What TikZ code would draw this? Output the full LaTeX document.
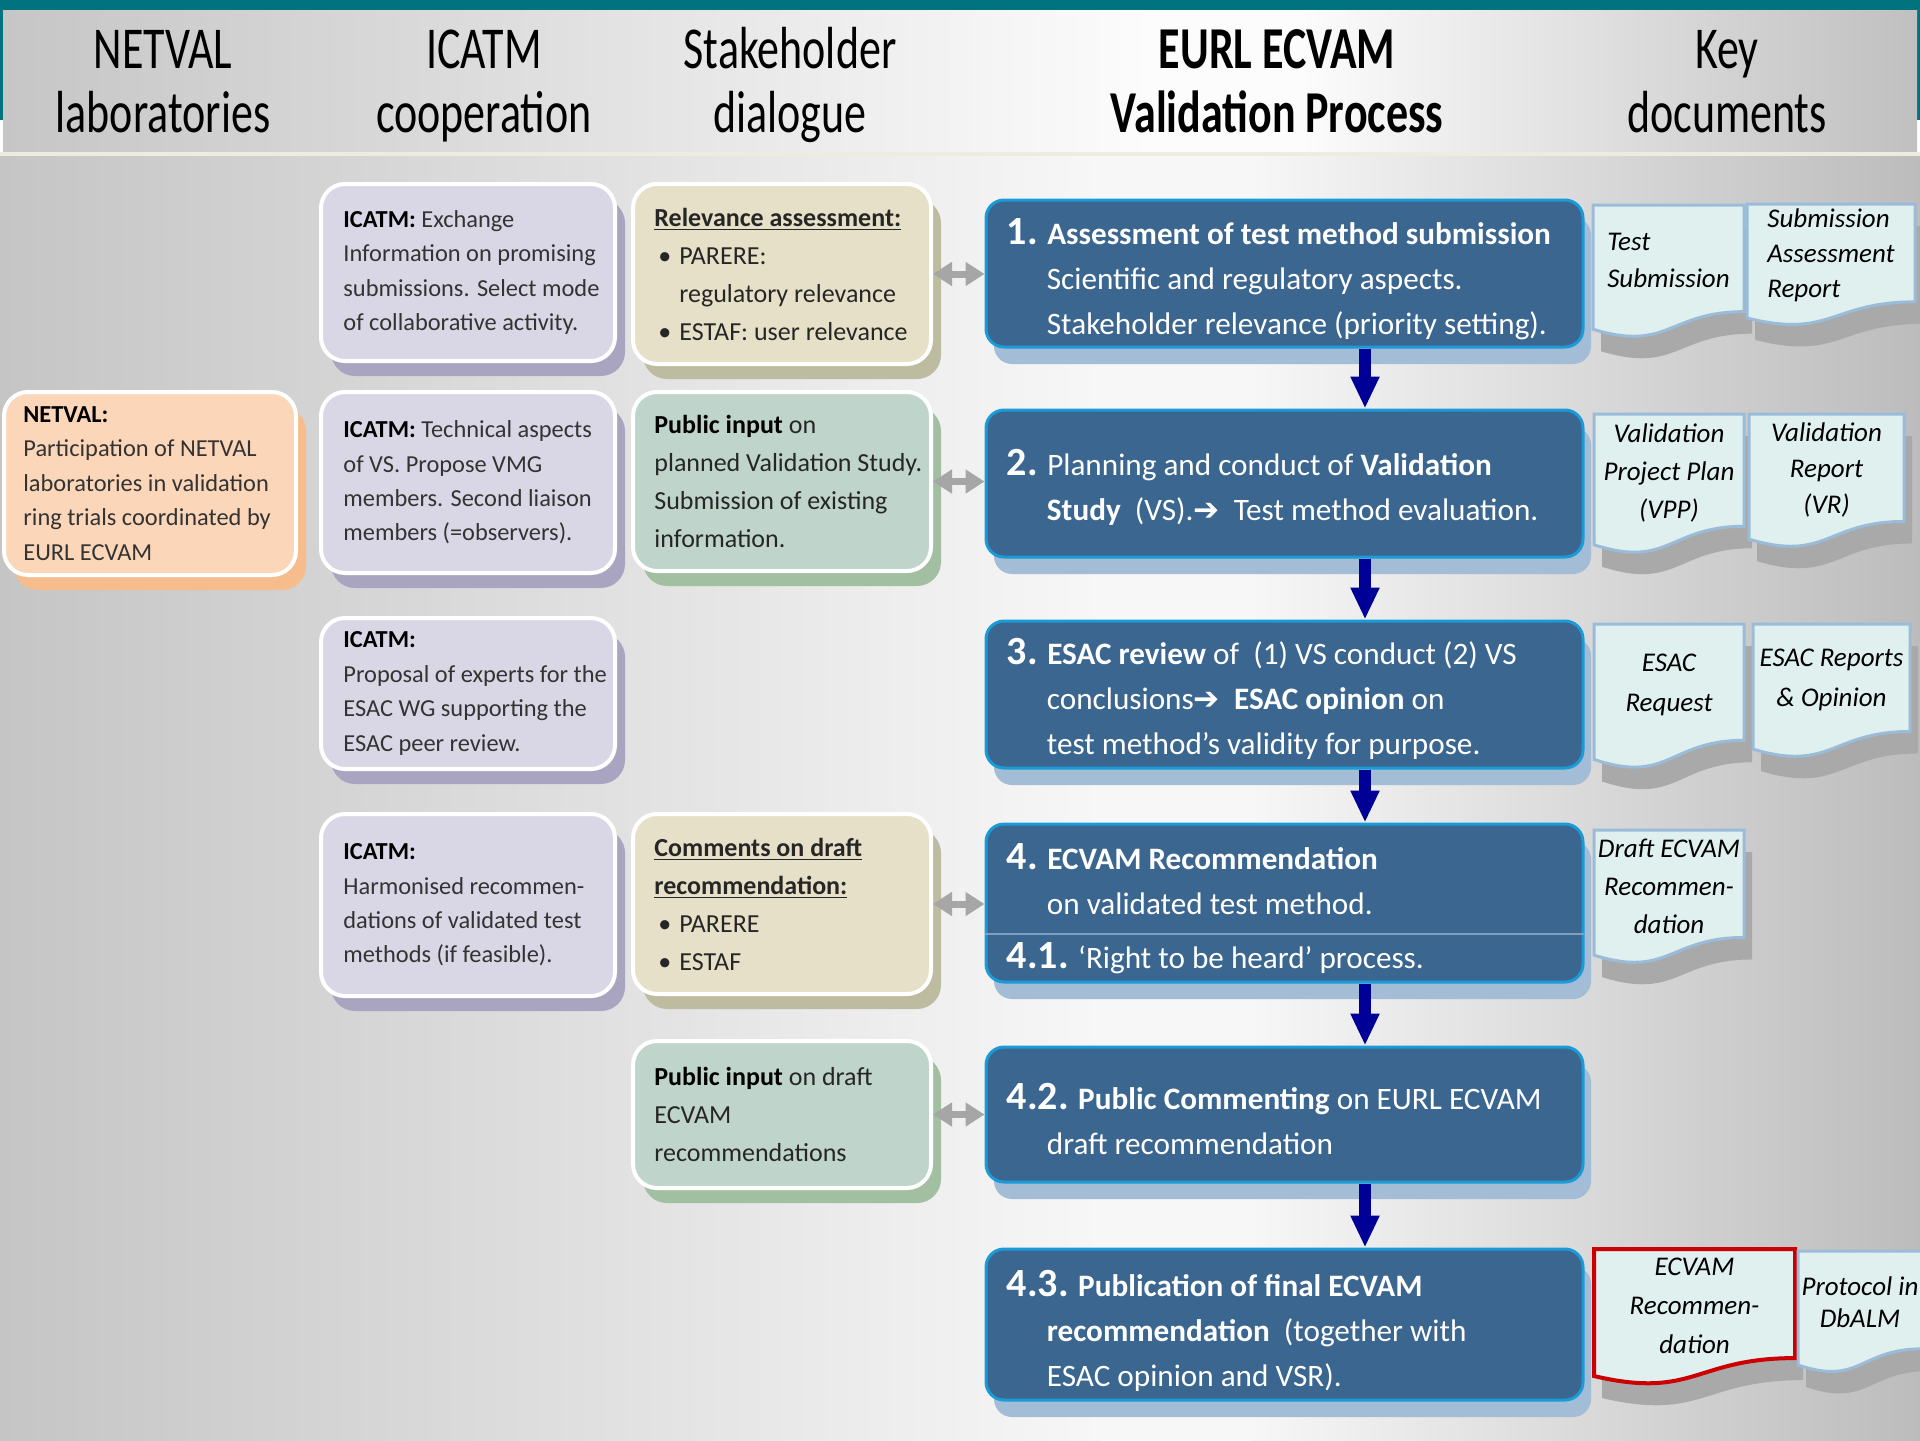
\documentclass[tikz,border=0pt]{standalone}
\usepackage{fontspec}
\setmainfont{Carlito}
\newfontfamily\arrowfont{DejaVu Sans}
\usetikzlibrary{arrows.meta,shadows,positioning}

\definecolor{topteal}{HTML}{00737F}
\definecolor{hdside}{HTML}{C6C6C6}
\definecolor{hdmid}{HTML}{FCFCFC}
\definecolor{hdright}{HTML}{C0C0C0}
\definecolor{sepline}{HTML}{EEEBE0}
\definecolor{bgside}{HTML}{C5C5C5}
\definecolor{bgmid}{HTML}{F7F7F7}
\definecolor{bgright}{HTML}{BCBCBC}
\definecolor{stepblue}{HTML}{3B6690}
\definecolor{stepedge}{HTML}{1A9BD7}
\definecolor{stepshade}{HTML}{A2BDD5}
\definecolor{stepline}{HTML}{7F9FC0}
\definecolor{icatmfill}{HTML}{D9D7E6}
\definecolor{icatmshade}{HTML}{A9A5C1}
\definecolor{relfill}{HTML}{E6E0C8}
\definecolor{relshade}{HTML}{BDBBA0}
\definecolor{pubfill}{HTML}{BFD4CB}
\definecolor{pubshade}{HTML}{A3BFA2}
\definecolor{netfill}{HTML}{FCD6B9}
\definecolor{netshade}{HTML}{F7BC8C}
\definecolor{docfill}{HTML}{DFF0EF}
\definecolor{docedge}{HTML}{9BBCD8}
\definecolor{docred}{HTML}{CC0000}
\definecolor{docshade}{HTML}{A9A9A9}
\definecolor{navyarrow}{HTML}{000096}
\definecolor{greyarrow}{HTML}{A6A6A6}
\definecolor{bodytext}{HTML}{333333}

\begin{document}
\begin{tikzpicture}[x=0.5pt, y=-0.5pt,
  colhead/.style={inner sep=0pt, font=\fontsize{22}{23.7}\selectfont},
  pastel/.style={draw=white, line width=2pt, rounded corners=12pt, inner sep=0pt},
  icatm/.style={pastel, fill=icatmfill, minimum width=147pt,
    drop shadow={shadow xshift=5pt, shadow yshift=-7.5pt, fill=icatmshade, opacity=1}},
  netval/.style={pastel, fill=netfill, minimum width=146pt,
    drop shadow={shadow xshift=5pt, shadow yshift=-7.5pt, fill=netshade, opacity=1}},
  relev/.style={pastel, fill=relfill, minimum width=149pt,
    drop shadow={shadow xshift=5pt, shadow yshift=-7.5pt, fill=relshade, opacity=1}},
  pubin/.style={pastel, fill=pubfill, minimum width=149pt,
    drop shadow={shadow xshift=5pt, shadow yshift=-7.5pt, fill=pubshade, opacity=1}},
  boxtext/.style={inner sep=0pt, align=left, text=bodytext, font=\fontsize{12.2}{17.2}\selectfont},
  staketext/.style={inner sep=0pt, align=left, text=black!85, font=\fontsize{13}{19}\selectfont},
  stepbox/.style={fill=stepblue, draw=stepedge, line width=1.5pt, rounded corners=9pt,
    minimum width=298.5pt, inner sep=0pt,
    drop shadow={shadow xshift=4pt, shadow yshift=-8.5pt, fill=stepshade, opacity=1}},
  steptext/.style={inner sep=0pt, align=left, text=white, font=\fontsize{15.6}{22.5}\selectfont},
  docpaper/.style={fill=docfill, draw=docedge, line width=1.5pt,
    drop shadow={shadow xshift=4pt, shadow yshift=-11pt, fill=docshade, opacity=1}},
  doctext/.style={inner sep=0pt, align=center, font=\itshape\fontsize{13.5}{19}\selectfont},
  flowarrow/.style={draw=navyarrow, line width=6pt, arrows={-Triangle[width=13.5pt,length=16pt]}},
  linkarrow/.style={draw=greyarrow, line width=3.5pt,
    arrows={Triangle[width=11.5pt,length=9.5pt]-Triangle[width=11.5pt,length=9.5pt]}}
]

\newcommand\headlines[2]{\scalebox{1}[1.35]{\begin{tabular}{@{}c@{}}#1\\#2\end{tabular}}}
\newcommand\boxlead[1]{\textcolor{black}{\textbf{#1}}}
\newcommand\stakebullet{\hspace*{2pt}\makebox[10.5pt][l]{\textbullet}}
\newcommand\stepno[1]{{\fontsize{20}{22.5}\selectfont\bfseries #1}}
\newcommand\stepindent{\hspace*{20pt}}
\newcommand\steparrow{{\arrowfont ➔}}
\newcommand\keydoc[6]{% style, x0, x1, y0, h, name
  \draw[#1] (#2,#4) -- (#3,#4) -- (#3,{#4+0.802*#5})
    .. controls ({(#2+#3)/2},{#4+0.802*#5}) and ({(#2+#3)/2},{#4+1.107*#5}) .. (#2,{#4+0.934*#5}) -- cycle;
  \coordinate (#6) at ({(#2+#3)/2},{#4+0.42*#5});}

\useasboundingbox (0,0) rectangle (1920,1440);

%% background
\fill[topteal] (0,0) rectangle (1920,120);
\fill[left color=hdside, right color=hdmid] (3,10) rectangle (1151,152);
\fill[hdmid] (1150,10) rectangle (1301,152);
\fill[left color=hdmid, right color=hdright] (1300,10) rectangle (1917,152);
\fill[sepline] (0,152) rectangle (1920,156);
\fill[left color=bgside, right color=bgmid] (0,156) rectangle (1101,1440);
\fill[bgmid] (1100,156) rectangle (1251,1440);
\fill[left color=bgmid, right color=bgright] (1250,156) rectangle (1920,1440);

%% column heads
\node[colhead] (hNetval) at (163,88) {\headlines{NETVAL}{laboratories}};
\node[colhead] (hIcatm) at (484,88) {\headlines{ICATM}{cooperation}};
\node[colhead] (hStake) at (790,88) {\headlines{Stakeholder}{dialogue}};
\node[colhead] (hEurl) at (1277,88) {\headlines{\textbf{EURL ECVAM}}{\textbf{Validation Process}}};
\node[colhead] (hKey) at (1727,88) {\headlines{Key}{documents}};

%% NETVAL and ICATM
\node[netval, minimum height=91.5pt] (N1) at (150,483.5) {};
\node[boxtext, right=10.5pt of N1.west] (N1t) {\boxlead{NETVAL:}\\Participation of NETVAL\\laboratories in validation\\ring trials coordinated by\\EURL ECVAM};

\node[icatm, minimum height=88.5pt] (I1) at (468,272.5) {};
\node[icatm, minimum height=90.5pt] (I2) at (468,482.5) {};
\node[icatm, minimum height=75.5pt] (I3) at (468,693.5) {};
\node[icatm, minimum height=91pt] (I4) at (468,905) {};
\node[boxtext, right=12pt of I1.west] (I1t) {\boxlead{ICATM:} Exchange\\Information on promising\\submissions. Select mode\\of collaborative activity.};
\node[boxtext, right=12pt of I2.west] (I2t) {\boxlead{ICATM:} Technical aspects\\of VS. Propose VMG\\members. Second liaison\\members (=observers).};
\node[boxtext, right=12pt of I3.west] (I3t) {\boxlead{ICATM:}\\Proposal of experts for the\\ESAC WG supporting the\\ESAC peer review.};
\node[boxtext, right=12pt of I4.west] (I4t) {\boxlead{ICATM:}\\Harmonised recommen-\\dations of validated test\\methods (if feasible).};

%% stakeholders
\node[relev, minimum height=90pt] (S1) at (782,274) {};
\node[pubin, minimum height=89.5pt] (S2) at (782,481.5) {};
\node[relev, minimum height=90pt] (S3) at (782,904) {};
\node[pubin, minimum height=73.5pt] (S4) at (782,1114.5) {};
\node[staketext, right=11.5pt of S1.west] (S1t) {\underline{\textbf{Relevance assessment:}}\\\stakebullet PARERE:\\\hspace*{12.5pt}regulatory relevance\\\stakebullet ESTAF: user relevance};
\node[staketext, right=11.5pt of S2.west] (S2t) {\boxlead{Public input} on\\planned Validation Study.\\Submission of existing\\information.};
\node[staketext, right=11.5pt of S3.west] (S3t) {\underline{\textbf{Comments on draft}}\\\underline{\textbf{recommendation:}}\\\stakebullet PARERE\\\stakebullet ESTAF};
\node[staketext, right=11.5pt of S4.west] (S4t) {\boxlead{Public input} on draft\\ECVAM\\recommendations};

%% validation steps
\node[stepbox, minimum height=73.5pt] (B1) at (1284.5,273.5) {};
\node[stepbox, minimum height=73.5pt] (B2) at (1284.5,483.5) {};
\node[stepbox, minimum height=73.5pt] (B3) at (1284.5,694.5) {};
\node[stepbox, minimum height=79pt] (B4) at (1284.5,903) {};
\node[stepbox, minimum height=67.5pt] (B42) at (1284.5,1114.5) {};
\node[stepbox, minimum height=75.5pt] (B43) at (1284.5,1324.5) {};
\coordinate (B4div) at (1284.5,934);
\draw[stepline, line width=1pt] (B4div -| B4.west) -- (B4div -| B4.east);

\node[steptext, right=11pt of B1.west, yshift=-3pt] (B1t) {\stepno{1.} \textbf{Assessment of test method submission}\\\stepindent Scientific and regulatory aspects.\\\stepindent Stakeholder relevance (priority setting).};
\node[steptext, right=11pt of B2.west, yshift=-2pt] (B2t) {\stepno{2.} Planning and conduct of \textbf{Validation}\\\stepindent\textbf{Study}\ \ (VS).\steparrow\ \ Test method evaluation.};
\node[steptext, right=11pt of B3.west, yshift=-2pt] (B3t) {\stepno{3.} \textbf{ESAC review} of\ \ (1) VS conduct (2) VS\\\stepindent conclusions\steparrow\ \ \textbf{ESAC opinion} on\\\stepindent test method’s validity for purpose.};
\node[steptext, right=11pt of B4.west, yshift=12pt] (B4t) {\stepno{4.} \textbf{ECVAM Recommendation}\\\stepindent on validated test method.};
\node[steptext, right=11pt of B4.west, yshift=-27.5pt] (B41t) {\stepno{4.1.} ‘Right to be heard’ process.};
\node[steptext, right=11pt of B42.west, yshift=-2pt] (B42t) {\stepno{4.2.} \textbf{Public Commenting} on EURL ECVAM\\\stepindent draft recommendation};
\node[steptext, right=11pt of B43.west, yshift=-3pt] (B43t) {\stepno{4.3.} \textbf{Publication of final ECVAM}\\\stepindent\textbf{recommendation}\ \ (together with\\\stepindent ESAC opinion and VSR).};

%% key documents
\keydoc{docpaper}{1593}{1744}{205}{133}{D1a}
\keydoc{docpaper}{1747}{1915}{204}{122}{D1b}
\keydoc{docpaper}{1594}{1744}{414}{140}{D2a}
\keydoc{docpaper}{1749}{1904}{414}{134}{D2b}
\keydoc{docpaper}{1594}{1744}{624}{145}{D3a}
\keydoc{docpaper}{1753}{1910}{624}{134}{D3b}
\keydoc{docpaper}{1594}{1744}{830}{134}{D4a}
\keydoc{docpaper, draw=docred, line width=2pt}{1594}{1795}{1249}{136}{D5a}
\keydoc{docpaper}{1798}{1922}{1251}{122}{D5b}

\node[doctext, align=left, font=\itshape\fontsize{13.5}{18.5}\selectfont] (D1at) at (D1a) {Test\\Submission};
\node[doctext, align=left, font=\itshape\fontsize{13.5}{17.5}\selectfont] (D1bt) at (D1b) {Submission\\Assessment\\Report};
\node[doctext] (D2at) at (D2a) {Validation\\Project Plan\\(VPP)};
\node[doctext, font=\itshape\fontsize{13.5}{18}\selectfont] (D2bt) at (D2b) {Validation\\Report\\(VR)};
\node[doctext, font=\itshape\fontsize{13.5}{20}\selectfont] (D3at) at (D3a) {ESAC\\Request};
\node[doctext, font=\itshape\fontsize{13.5}{20}\selectfont] (D3bt) at (D3b) {ESAC Reports\\\& Opinion};
\node[doctext] (D4at) at (D4a) {Draft ECVAM\\Recommen-\\dation};
\node[doctext, font=\itshape\fontsize{13.5}{19.5}\selectfont] (D5at) at (D5a) {ECVAM\\Recommen-\\dation};
\node[doctext, font=\itshape\fontsize{13.5}{16}\selectfont] (D5bt) at (D5b) {Protocol in\\DbALM};

%% connectors
\coordinate (flowx) at (1365,0);
\draw[flowarrow] (B1.south -| flowx) -- (B2.north -| flowx);
\draw[flowarrow] (B2.south -| flowx) -- (B3.north -| flowx);
\draw[flowarrow] (B3.south -| flowx) -- (B4.north -| flowx);
\draw[flowarrow] (B4.south -| flowx) -- (B42.north -| flowx);
\draw[flowarrow] (B42.south -| flowx) -- (B43.north -| flowx);

\draw[linkarrow] (S1.east) -- (S1.east -| B1.west);
\draw[linkarrow] (S2.east) -- (S2.east -| B2.west);
\draw[linkarrow] (S3.east) -- (S3.east -| B4.west);
\draw[linkarrow] (S4.east) -- (S4.east -| B42.west);

\end{tikzpicture}
\end{document}
